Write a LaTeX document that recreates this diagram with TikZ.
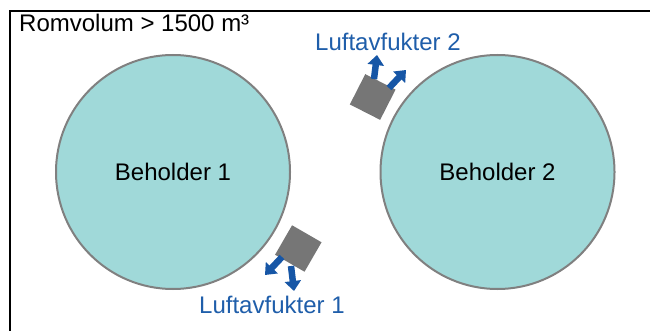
\documentclass[tikz,border=0pt]{standalone}
\usepackage{fontspec}
\setmainfont{Liberation Sans}
\usetikzlibrary{arrows.meta}
\definecolor{tankfill}{RGB}{160,217,217}
\definecolor{tankedge}{RGB}{128,128,128}
\definecolor{unitgray}{RGB}{118,118,118}
\definecolor{arrowblue}{RGB}{22,86,166}
\definecolor{labelblue}{RGB}{31,94,170}
\tikzset{
  tank/.style={circle, draw=tankedge, line width=2pt, fill=tankfill, minimum size=234pt, inner sep=0pt},
  unit/.style={rectangle, fill=unitgray, minimum size=34pt, inner sep=0pt},
  airflow/.style={arrowblue, line width=6.5pt, -{Triangle[width=16pt,length=10pt]}},
  bigtext/.style={font=\fontsize{24}{28}\selectfont, inner sep=0pt},
  bluetext/.style={bigtext, text=labelblue}
}
\begin{document}
\begin{tikzpicture}[x=1pt,y=-1pt]
\useasboundingbox (0,0) rectangle (650,331);
\fill[white] (0,0) rectangle (650,331);
% frame
\coordinate (fbl) at (10,335);
\coordinate (ftl) at (10,11);
\coordinate (ftr) at (655,11);
\draw[line width=2pt] (fbl) -- (ftl) -- (ftr);
\node[bigtext, anchor=base west] (title) at (19,32) {Romvolum > 1500 m³};
% tanks
\node[tank] (t1) at (173,172) {};
\node[bigtext] (b1) at (173,172) {Beholder 1};
\node[tank] (t2) at (497.5,172) {};
\node[bigtext] (b2) at (497.5,172) {Beholder 2};
% dehumidifier 1
\node[unit, rotate=-30] (u1) at (298.3,248.5) {};
\coordinate (a1s) at (282,257);
\coordinate (a1e) at (265,275);
\coordinate (a2s) at (291,266);
\coordinate (a2e) at (294,291);
\draw[airflow] (a1s) -- (a1e);
\draw[airflow] (a2s) -- (a2e);
\node[bluetext, anchor=base west] (l1) at (199,313) {Luftavfukter 1};
% dehumidifier 2
\node[unit, rotate=-27] (u2) at (372.7,97) {};
\coordinate (c1s) at (374,79);
\coordinate (c1e) at (377,55);
\coordinate (c2s) at (389,88);
\coordinate (c2e) at (406,70);
\draw[airflow] (c1s) -- (c1e);
\draw[airflow] (c2s) -- (c2e);
\node[bluetext, anchor=base west] (l2) at (315,51) {Luftavfukter 2};
\end{tikzpicture}
\end{document}
